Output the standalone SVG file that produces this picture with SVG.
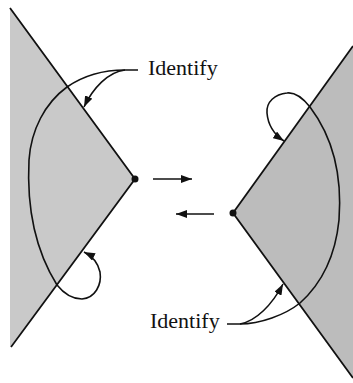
<svg xmlns="http://www.w3.org/2000/svg" width="353" height="383" viewBox="0 0 353 383">
  <defs>
    <marker id="ah" markerUnits="userSpaceOnUse" markerWidth="11" markerHeight="8" refX="11" refY="4" orient="auto">
      <path d="M0,0 L11,4 L0,8 z" fill="#111"/>
    </marker>
  </defs>
  <style>
    .edge{fill:none;stroke:#111;stroke-width:1.6;}
    .wedge{stroke:#111;stroke-width:1.8;stroke-linejoin:miter;}
    .lbl{font-family:"Liberation Serif","Times New Roman",serif;font-size:22px;fill:#111;}
  </style>
  <rect width="353" height="383" fill="#fff"/>
  <g id="left-wedge">
    <polygon points="10,8 135,179 10,347" fill="#c9c9c9"/>
    <polyline points="10,8 135,179 11,347" class="wedge" fill="none"/>
    <circle cx="135" cy="179" r="3.5" fill="#111"/>
  </g>
  <g id="right-wedge">
    <polygon points="353,46 233,213 353,378" fill="#bcbcbc"/>
    <polyline points="353,46 233,213 353,378" class="wedge" fill="none"/>
    <circle cx="233" cy="213" r="3.5" fill="#111"/>
  </g>
  <g id="label-top">
    <text class="lbl" x="148" y="75">Identify</text>
  </g>
  <g id="label-bottom">
    <text class="lbl" x="150" y="328">Identify</text>
  </g>
  <g id="connectors">
    <path class="edge" d="M153,179 L192,179" marker-end="url(#ah)"/>
    <path class="edge" d="M214,214 L176,214" marker-end="url(#ah)"/>
    <path class="edge" d="M138,70 L125,70 C100,70 80,78 67,87 C45,103 31,130 29,160 C27,200 32,245 57,285 C65,295 73,299 82,299 C95,298 102,285 100,272 C98,263 92,256 84,252" marker-end="url(#ah)"/>
    <path class="edge" d="M125,70 C108,72 93,88 84,107" marker-end="url(#ah)"/>
    <path class="edge" d="M227,324 L240,324 C260,324 285,315 300,303 C320,285 335,260 339,220 C342,180 335,140 310,107 C302,97 295,92 287,93 C275,94 266,102 267,113 C268,125 275,135 284,141" marker-end="url(#ah)"/>
    <path class="edge" d="M240,324 C256,321 272,305 283,284" marker-end="url(#ah)"/>
  </g>
</svg>
